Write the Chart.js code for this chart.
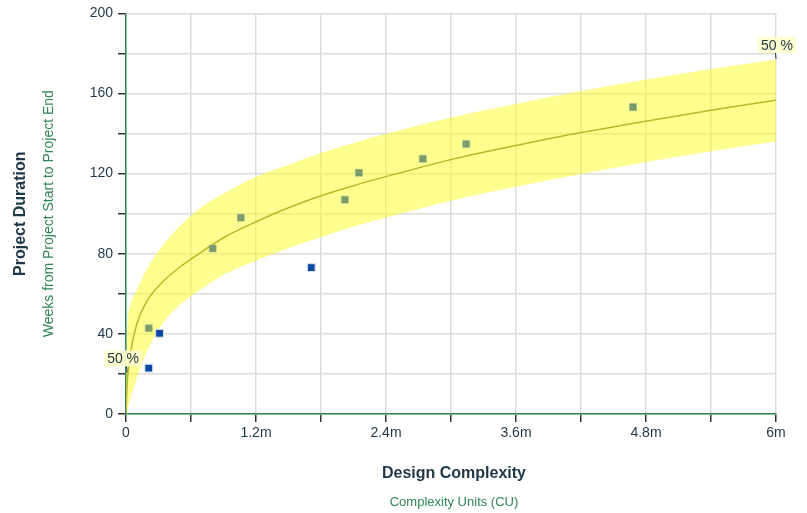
<!DOCTYPE html>
<html>
<head>
<meta charset="utf-8">
<script src="https://cdn.jsdelivr.net/npm/chart.js@4.4.1/dist/chart.umd.min.js"></script>
<style>
    html, body { margin: 0; padding: 0; background: #fff; }
    #wrap { width: 807px; height: 513px; }
</style>
</head>
<body>
<div id="wrap"><canvas id="chart" width="807" height="513"></canvas></div>
<script>
// Complexity in millions of CU, duration in weeks
const curveX     = [0, 0.01, 0.04, 0.1, 0.2, 0.35, 0.5, 0.7, 0.9, 1.2, 1.5, 1.8, 2.1, 2.5, 3.0, 3.6, 4.2, 4.8, 5.4, 6.0];
const curveMid   = [0, 14, 30, 45, 57, 66.5, 73.5, 81, 88, 96, 103, 109, 114, 120, 127, 134, 140.5, 146.2, 151.6, 156.7];
const curveUpper = [0, 38, 54, 62, 73, 85, 94, 103.5, 110, 118.5, 124.5, 130.3, 135.3, 141.3, 148, 154.8, 161.2, 167, 172.3, 177];
const curveLower = [0, 2, 7.5, 18, 32, 46, 54.5, 62.5, 69.5, 76.5, 82.8, 88.3, 93.5, 99.5, 106.5, 113.5, 119.8, 125.8, 131.2, 136];

const insideX = [0.21, 0.80, 1.06, 2.02, 2.15, 2.74, 3.14, 4.68];
const insideY = [42.8, 82.6, 98, 107, 120.4, 127.4, 134.8, 153.2];
const outsideX = [0.21, 0.31, 1.71];
const outsideY = [22.9, 40.3, 73.1];

const bandLabel = '50 %';

const toPoints = (xs, ys) => xs.map((x, i) => ({ x: x, y: ys[i] }));

const FONT = '"Liberation Sans", Arial, sans-serif';
const DARK = '#1d3746';
const GREEN = '#2e8555';

// axis titles and the 50 % markers
const decorPlugin = {
    id: 'decor',
    afterDraw(chart) {
        const ctx = chart.ctx;
        const area = chart.chartArea;
        const xs = chart.scales.x;
        const ys = chart.scales.y;
        const midY = (area.top + area.bottom) / 2;
        const midX = (area.left + area.right) / 2 + 3;

        ctx.save();
        ctx.textAlign = 'center';
        ctx.textBaseline = 'middle';

        ctx.save();
        ctx.translate(21, midY);
        ctx.rotate(-Math.PI / 2);
        ctx.fillStyle = DARK;
        ctx.font = 'bold 16px ' + FONT;
        ctx.fillText('Project Duration', 0, 0);
        ctx.fillStyle = GREEN;
        ctx.font = '14px ' + FONT;
        ctx.fillText('Weeks from Project Start to Project End', 0, 28);
        ctx.restore();

        ctx.fillStyle = DARK;
        ctx.font = 'bold 16px ' + FONT;
        ctx.fillText('Design Complexity', midX, 474);
        ctx.fillStyle = GREEN;
        ctx.font = '13px ' + FONT;
        ctx.fillText('Complexity Units (CU)', midX, 502);

        // left marker sits on the start of the median curve, right one on the end of the upper edge
        const marks = [
            { x: curveX[1], y: curveMid[1], dx: -4, dy: -27.5 },
            { x: curveX[curveX.length - 1], y: curveUpper[curveUpper.length - 1], dx: 1, dy: -14.5 }
        ];
        ctx.font = '14px ' + FONT;
        marks.forEach(m => {
            const px = xs.getPixelForValue(m.x);
            const py = ys.getPixelForValue(m.y);
            const w = ctx.measureText(bandLabel).width + 6;
            const cx = px + m.dx;
            const cy = py + m.dy;
            ctx.fillStyle = 'rgba(255, 255, 205, 0.9)';
            ctx.fillRect(cx - w / 2, cy - 8, w, 16);
            ctx.strokeStyle = DARK;
            ctx.lineWidth = 1;
            ctx.beginPath();
            ctx.moveTo(px - 0.5, cy + 8);
            ctx.lineTo(px, cy + 14);
            ctx.stroke();
            ctx.fillStyle = DARK;
            ctx.fillText(bandLabel, cx, cy + 1);
        });
        ctx.restore();
    }
};

const ctx = document.getElementById('chart').getContext('2d');
new Chart(ctx, {
    type: 'scatter',
    data: {
        datasets: [
            {
                type: 'line',
                data: toPoints(curveX, curveUpper),
                borderWidth: 0,
                pointRadius: 0,
                fill: '+1',
                backgroundColor: 'rgba(255, 255, 20, 0.48)',
                cubicInterpolationMode: 'monotone',
                order: 4
            },
            {
                type: 'line',
                data: toPoints(curveX, curveLower),
                borderWidth: 0,
                pointRadius: 0,
                fill: false,
                cubicInterpolationMode: 'monotone',
                order: 4
            },
            {
                type: 'line',
                data: toPoints(curveX, curveMid),
                borderColor: '#b9b72c',
                borderWidth: 1.5,
                pointRadius: 0,
                fill: false,
                cubicInterpolationMode: 'monotone',
                order: 3
            },
            {
                data: toPoints(insideX, insideY),
                pointStyle: 'rect',
                pointRadius: 5,
                backgroundColor: '#7b9b6b',
                borderColor: '#9fb88f',
                borderWidth: 0.5,
                order: 2
            },
            {
                data: toPoints(outsideX, outsideY),
                pointStyle: 'rect',
                pointRadius: 5.5,
                backgroundColor: '#0a47a3',
                borderColor: '#d8e2f2',
                borderWidth: 1,
                order: 1
            }
        ]
    },
    options: {
        responsive: false,
        animation: false,
        layout: { padding: { left: 0, right: 31, top: 12, bottom: 0 } },
        plugins: {
            legend: { display: false },
            tooltip: { enabled: false }
        },
        scales: {
            x: {
                type: 'linear',
                min: 0,
                max: 6,
                afterFit: (scale) => { scale.height = 99; },
                grid: { color: '#dcdcdc', lineWidth: 1.5, tickColor: '#333', tickLength: 8 },
                border: { color: GREEN, width: 1.5 },
                ticks: {
                    stepSize: 0.6,
                    padding: 3,
                    color: DARK,
                    font: { family: FONT, size: 14 },
                    maxRotation: 0,
                    autoSkip: false,
                    callback: (v) => {
                        const k = v / 1.2;
                        if (Math.abs(k - Math.round(k)) > 1e-6) return '';
                        const r = Math.round(v * 10) / 10;
                        return r === 0 ? '0' : r + 'm';
                    }
                }
            },
            y: {
                min: 0,
                max: 200,
                afterFit: (scale) => { scale.width = 126; },
                grid: { color: '#dcdcdc', lineWidth: 1.5, tickColor: '#333', tickLength: 8 },
                border: { color: GREEN, width: 1.5 },
                ticks: {
                    stepSize: 20,
                    padding: 5,
                    color: DARK,
                    font: { family: FONT, size: 14 },
                    autoSkip: false,
                    callback: (v) => (v % 40 === 0 ? String(v) : '')
                }
            }
        }
    },
    plugins: [decorPlugin]
});
</script>
</body>
</html>
